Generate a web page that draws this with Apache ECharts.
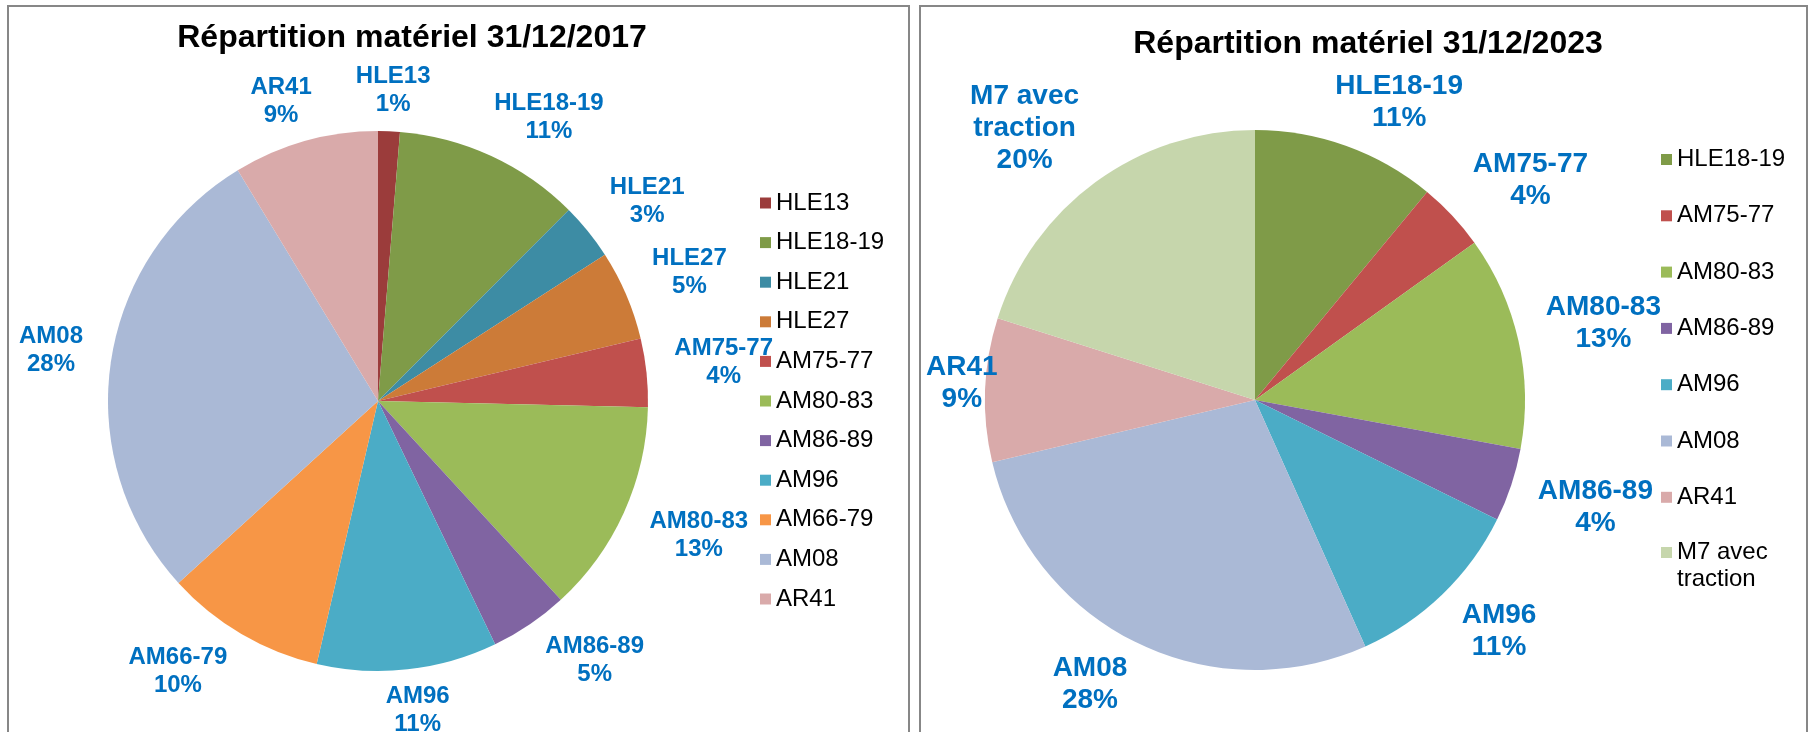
<!DOCTYPE html>
<html>
<head>
<meta charset="utf-8">
<title>Répartition matériel</title>
<script src="https://cdn.jsdelivr.net/npm/echarts@6/dist/echarts.min.js"></script>
<style>
  html, body { margin: 0; padding: 0; background: #fff; }
  #chart { width: 1814px; height: 732px; }
</style>
</head>
<body>
<div id="chart"></div>
<script>
// parts (percent of the fleet)
const categories2017 = ['HLE13', 'HLE18-19', 'HLE21', 'HLE27', 'AM75-77', 'AM80-83', 'AM86-89', 'AM96', 'AM66-79', 'AM08', 'AR41'];
const values2017 = [1.3, 11.2, 3.4, 5.4, 4.1, 12.8, 4.7, 10.8, 9.6, 28.1, 8.7];

const categories2023 = ['HLE18-19', 'AM75-77', 'AM80-83', 'AM86-89', 'AM96', 'AM08', 'AR41', 'M7 avec traction'];
const values2023 = [11.0, 4.1, 12.8, 4.4, 11.0, 28.0, 8.6, 20.1];

const titles = ['Répartition matériel 31/12/2017', 'Répartition matériel 31/12/2023'];

const colorOf = {
  'HLE13': '#9B3C3B',
  'HLE18-19': '#7F9B48',
  'HLE21': '#3D8CA4',
  'HLE27': '#CC7B38',
  'AM75-77': '#C0504D',
  'AM80-83': '#9BBB59',
  'AM86-89': '#8064A2',
  'AM96': '#4BACC6',
  'AM66-79': '#F79646',
  'AM08': '#AAB9D6',
  'AR41': '#D9AAAA',
  'M7 avec traction': '#C6D6AC'
};

const FONT = '"Liberation Sans", Arial, sans-serif';
const wrap = name => name === 'M7 avec traction' ? 'M7 avec\ntraction' : name;

function toData(names, values) {
  return names.map((n, i) => ({ name: n, value: values[i], itemStyle: { color: colorOf[n] } }));
}

// put each label outside its slice, centred, like Excel's "best fit"
function placeLabel(values, cx, cy, r, minLeft) {
  const total = values.reduce((a, b) => a + b, 0);
  return function (p) {
    let before = 0;
    for (let i = 0; i < p.dataIndex; i++) before += values[i];
    const a = (before + values[p.dataIndex] / 2) / total * Math.PI * 2;
    const dx = Math.sin(a), dy = -Math.cos(a);
    const hw = p.labelRect.width / 2, hh = p.labelRect.height / 2;
    let x = cx + dx * (r + 28) + Math.sign(dx) * hw * Math.min(1, Math.abs(dx) * 2);
    const y = cy + dy * (r + 13) + Math.sign(dy) * hh * Math.sqrt(Math.abs(dy));
    x = Math.max(x, minLeft + hw);
    return { x: x, y: y, align: 'center', verticalAlign: 'middle' };
  };
}

function pieSeries(names, values, cx, cy, r, fontSize, lineHeight, minLeft) {
  return {
    type: 'pie',
    center: [cx, cy],
    radius: r,
    startAngle: 90,
    clockwise: true,
    avoidLabelOverlap: false,
    silent: true,
    data: toData(names, values),
    label: {
      position: 'outside',
      color: '#0070C0',
      fontFamily: FONT,
      fontWeight: 'bold',
      fontSize: fontSize,
      lineHeight: lineHeight,
      formatter: p => wrap(p.name) + '\n' + Math.round(p.percent) + '%'
    },
    labelLine: { show: false, length: 10, length2: 0 },
    labelLayout: placeLabel(values, cx, cy, r, minLeft)
  };
}

const chart = echarts.init(document.getElementById('chart'));

chart.setOption({
  animation: false,
  backgroundColor: '#fff',
  title: [
    { text: titles[0], left: 412, top: 22, textAlign: 'center', padding: 0,
      textStyle: { fontFamily: FONT, fontSize: 32, fontWeight: 'bold', color: '#000' } },
    { text: titles[1], left: 1368, top: 28, textAlign: 'center', padding: 0,
      textStyle: { fontFamily: FONT, fontSize: 32, fontWeight: 'bold', color: '#000' } }
  ],
  legend: [
    {
      orient: 'vertical', left: 760, top: 191, padding: 0,
      icon: 'rect', itemWidth: 11, itemHeight: 11, itemGap: 15.6,
      selectedMode: false,
      data: categories2017,
      textStyle: { fontFamily: FONT, fontSize: 24, lineHeight: 22, color: '#000' }
    },
    {
      orient: 'vertical', left: 1661, top: 146, padding: 0,
      icon: 'rect', itemWidth: 11, itemHeight: 11, itemGap: 29.3,
      selectedMode: false,
      data: categories2023.slice(0, 7),
      textStyle: { fontFamily: FONT, fontSize: 24, lineHeight: 27, color: '#000' }
    },
    {
      // two-line entry: an empty first line keeps "M7 avec" level with its square
      orient: 'vertical', left: 1661, top: 512, padding: 0,
      icon: 'rect', itemWidth: 11, itemHeight: 11,
      selectedMode: false,
      data: categories2023.slice(7),
      formatter: name => '\n' + wrap(name),
      textStyle: { fontFamily: FONT, fontSize: 24, lineHeight: 27, color: '#000' }
    }
  ],
  graphic: [
    { type: 'rect', shape: { x: 8, y: 6, width: 901, height: 800 },
      style: { fill: 'none', stroke: '#878787', lineWidth: 2 }, silent: true },
    { type: 'rect', shape: { x: 920, y: 6, width: 887, height: 800 },
      style: { fill: 'none', stroke: '#878787', lineWidth: 2 }, silent: true }
  ],
  series: [
    pieSeries(categories2017, values2017, 378, 401, 270, 24, 28, 12),
    pieSeries(categories2023, values2023, 1255, 400, 270, 28, 32, 926)
  ]
});
</script>
</body>
</html>
